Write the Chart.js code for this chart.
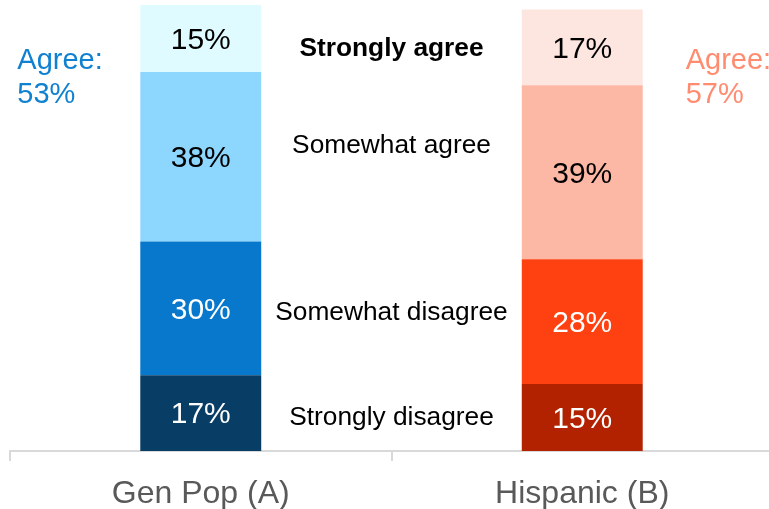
<!DOCTYPE html>
<html>
<head>
<meta charset="utf-8">
<script src="https://cdn.jsdelivr.net/npm/chart.js@4"></script>
<style>
  html, body { margin: 0; padding: 0; background: #fff; overflow: hidden; }
  #wrap { width: 773px; height: 509px; }
</style>
</head>
<body>
<div id="wrap"><canvas id="agreeChart"></canvas></div>
<script>
// Chart Data
const groups = ['Gen Pop (A)', 'Hispanic (B)'];
const levels = ['Strongly disagree', 'Somewhat disagree', 'Somewhat agree', 'Strongly agree'];
const stronglyDisagree = [17, 15];
const somewhatDisagree = [30, 28];
const somewhatAgree = [38, 39];
const stronglyAgree = [15, 17];
const agreeText = ['53%', '57%'];

// colours per level, one per group
const levelColors = [
  ['#083d66', '#b22200'],
  ['#0878cc', '#ff4010'],
  ['#8dd7ff', '#fcb8a5'],
  ['#e0fbff', '#fde5e0']
];
const labelColors = ['#ffffff', '#ffffff', '#000000', '#000000'];
const agreeColors = ['#1080d0', '#ff8c70'];

const seriesValues = [stronglyDisagree, somewhatDisagree, somewhatAgree, stronglyAgree];

const chartData = {
  labels: groups,
  datasets: levels.map((name, i) => ({
    label: name,
    data: seriesValues[i],
    backgroundColor: levelColors[i],
    borderWidth: 0,
    barPercentage: 0.317,
    categoryPercentage: 1
  }))
};

// labels drawn on and around the bars
const labelPlugin = {
  id: 'barLabels',
  afterDatasetsDraw(chart) {
    const ctx = chart.ctx;
    const xs = chart.scales.x;
    const ys = chart.scales.y;
    ctx.save();
    ctx.textAlign = 'center';
    ctx.textBaseline = 'middle';

    // values inside the segments
    ctx.font = '30px "Liberation Sans", Arial, sans-serif';
    chart.data.datasets.forEach((ds, i) => {
      const meta = chart.getDatasetMeta(i);
      meta.data.forEach((bar, j) => {
        const mid = (bar.y + bar.base) / 2;
        ctx.fillStyle = labelColors[i];
        ctx.fillText(ds.data[j] + '%', bar.x, mid + 2);
      });
    });

    // level names between the two bars
    const midX = (xs.getPixelForValue(0) + xs.getPixelForValue(1)) / 2;
    const levelY = [8, 31.4, 69, 90.6];
    levels.forEach((name, i) => {
      ctx.font = (i === 3 ? 'bold ' : '') + '26.3px "Liberation Sans", Arial, sans-serif';
      ctx.fillStyle = '#000';
      ctx.fillText(name, midX, ys.getPixelForValue(levelY[i]) + 2);
    });

    // agree totals
    ctx.font = '29px "Liberation Sans", Arial, sans-serif';
    ctx.textAlign = 'left';
    const first = chart.getDatasetMeta(0).data;
    const leftX = first[0].x - first[0].width / 2 - 123;
    const rightX = first[1].x + first[1].width / 2 + 43;
    [leftX, rightX].forEach((x, j) => {
      ctx.fillStyle = agreeColors[j];
      ctx.fillText('Agree:', x, 61);
      ctx.fillText(agreeText[j], x, 95);
    });
    ctx.restore();
  }
};

// Chart Options
const chartOptions = {
  responsive: true,
  maintainAspectRatio: false,
  animation: false,
  layout: { padding: { left: 10, right: 0, top: 5, bottom: 0 } },
  plugins: {
    legend: { display: false },
    tooltip: { enabled: false }
  },
  scales: {
    x: {
      stacked: true,
      grid: {
        offset: true,
        drawOnChartArea: false,
        drawTicks: true,
        tickLength: 10,
        color: '#d9d9d9',
        lineWidth: 2
      },
      border: { display: true, color: '#d9d9d9', width: 2 },
      ticks: {
        color: '#595959',
        padding: 14,
        font: { family: '"Liberation Sans", Arial, sans-serif', size: 32 }
      },
      afterFit(scale) { scale.height = 58; }
    },
    y: {
      stacked: true,
      display: false,
      min: 0,
      max: 100
    }
  }
};

// Initialize Chart
document.addEventListener('DOMContentLoaded', () => {
  const ctx = document.getElementById('agreeChart');
  if (ctx) {
    new Chart(ctx.getContext('2d'), {
      type: 'bar',
      data: chartData,
      options: chartOptions,
      plugins: [labelPlugin]
    });
  } else {
    console.error('Canvas element for chart not found.');
  }
});
</script>
</body>
</html>
